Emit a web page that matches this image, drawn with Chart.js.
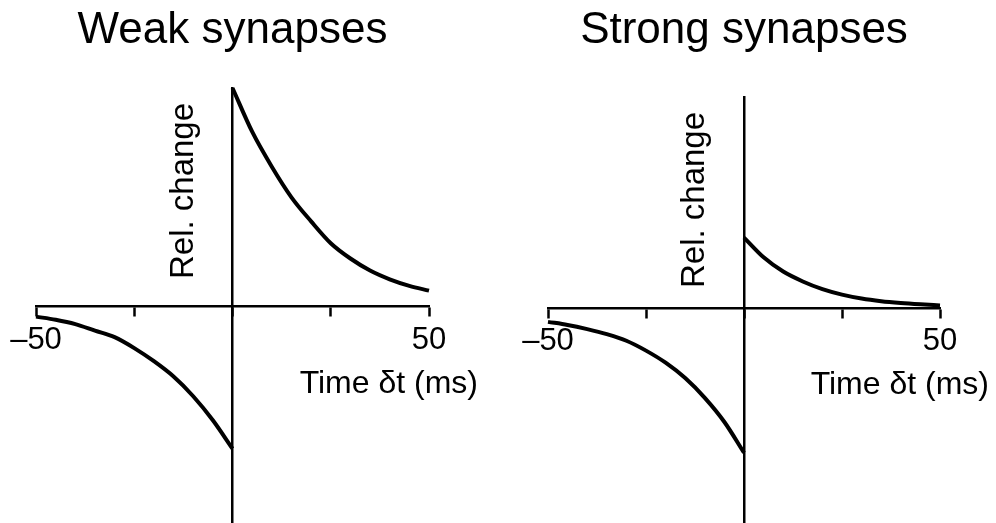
<!DOCTYPE html>
<html>
<head>
<meta charset="utf-8">
<title>Weak vs strong synapses</title>
<script src="https://cdn.jsdelivr.net/npm/chart.js@4.4.1/dist/chart.umd.min.js"></script>
<style>
  html, body { margin: 0; padding: 0; background: #fff; }
  #wrap { position: relative; width: 996px; height: 523px; overflow: hidden; }
  canvas { position: absolute; top: 0; }
  #weak { left: 0; }
  #strong { left: 498px; }
</style>
</head>
<body>
<div id="wrap">
  <canvas id="weak" width="498" height="523"></canvas>
  <canvas id="strong" width="498" height="523"></canvas>
</div>
<script>
"use strict";

// spike timing, ms (pre before post on the negative side)
var tPre = [-50, -45, -40, -35, -30, -25, -20, -15, -10, -5, 0];
var tPost = [0, 5, 10, 15, 20, 25, 30, 35, 40, 45, 50];

// relative weight change
var weakDepression = [-0.046, -0.06, -0.08, -0.11, -0.14, -0.19, -0.25, -0.32, -0.41, -0.52, -0.65];
var weakPotentiation = [1.0, 0.80, 0.64, 0.50, 0.39, 0.29, 0.22, 0.165, 0.125, 0.095, 0.073];

var strongDepression = [-0.064, -0.078, -0.097, -0.12, -0.15, -0.195, -0.25, -0.32, -0.41, -0.52, -0.66];
var strongPotentiation = [0.32, 0.23, 0.165, 0.12, 0.085, 0.06, 0.042, 0.03, 0.022, 0.016, 0.011];

var xTicks = [-50, -25, 0, 25, 50];
var xTickLabels = ['\u201350', '', '', '', '50'];

var FONT = '"Liberation Sans", Arial, Helvetica, sans-serif';

function toPoints(xs, ys) {
    return xs.map(function (x, i) { return { x: x, y: ys[i] }; });
}

// axis names sit next to the crossing axes, not at the chart edges
var axisNames = {
    id: 'axisNames',
    afterDraw: function (chart) {
        var ctx = chart.ctx;
        var sx = chart.scales.x, sy = chart.scales.y;
        var x0 = sx.getPixelForValue(0);
        var y0 = sy.getPixelForValue(0);

        ctx.save();
        ctx.fillStyle = '#000';
        ctx.textBaseline = 'alphabetic';

        ctx.font = '32px ' + FONT;
        ctx.textAlign = 'right';
        ctx.fillText('Time \u03b4t (ms)', sx.getPixelForValue(50) + 49, y0 + 86);

        ctx.font = '33px ' + FONT;
        ctx.textAlign = 'center';
        ctx.translate(x0 - 40, chart.chartArea.top + 103);
        ctx.rotate(-Math.PI / 2);
        ctx.fillText('Rel. change', 0, 0);
        ctx.restore();
    }
};

function makePanel(id, title, depression, potentiation, yMin, yMax, pad, titleGap) {
    var line = {
        borderColor: '#000',
        borderWidth: 4,
        pointRadius: 0,
        cubicInterpolationMode: 'monotone',
        clip: false,
        fill: false
    };

    return new Chart(document.getElementById(id), {
        type: 'line',
        data: {
            datasets: [
                Object.assign({ label: 'pre \u2192 post', data: toPoints(tPre, depression) }, line),
                Object.assign({ label: 'post \u2192 pre', data: toPoints(tPost, potentiation) }, line)
            ]
        },
        options: {
            responsive: false,
            animation: false,
            devicePixelRatio: 1,
            layout: {
                padding: { left: pad[0], right: pad[1], top: 0, bottom: 0 }
            },
            plugins: {
                legend: { display: false },
                tooltip: { enabled: false },
                title: {
                    display: true,
                    text: title,
                    color: '#000',
                    font: { family: FONT, size: 44, weight: 'normal', lineHeight: 1 },
                    padding: { top: 9, bottom: titleGap }
                }
            },
            scales: {
                x: {
                    type: 'linear',
                    min: -50,
                    max: 50,
                    position: { y: 0 },
                    afterBuildTicks: function (scale) {
                        scale.ticks = xTicks.map(function (v) { return { value: v }; });
                    },
                    grid: {
                        display: true,
                        drawOnChartArea: false,
                        drawTicks: true,
                        tickLength: 9,
                        tickWidth: 2.5,
                        tickColor: '#000'
                    },
                    border: { display: true, width: 2.5, color: '#000' },
                    ticks: {
                        color: '#000',
                        font: { family: FONT, size: 31 },
                        padding: 6,
                        maxRotation: 0,
                        autoSkip: false,
                        callback: function (value) {
                            var i = xTicks.indexOf(value);
                            return i < 0 ? '' : xTickLabels[i];
                        }
                    }
                },
                y: {
                    type: 'linear',
                    min: yMin,
                    max: yMax,
                    position: { x: 0 },
                    grid: { display: false },
                    border: { display: true, width: 2.5, color: '#000' },
                    ticks: { display: false }
                }
            }
        },
        plugins: [axisNames]
    });
}

makePanel('weak', 'Weak synapses', weakDepression, weakPotentiation, -0.99, 1.0, [36, 69], 35);
makePanel('strong', 'Strong synapses', strongDepression, strongPotentiation, -0.98, 0.96, [50, 56], 44);
</script>
</body>
</html>
